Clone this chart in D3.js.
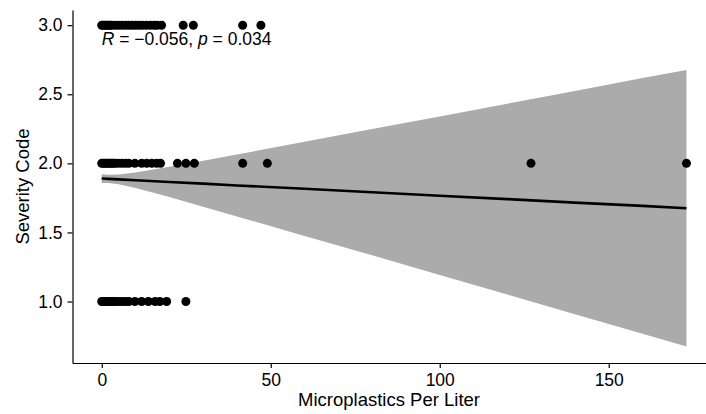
<!DOCTYPE html>
<html>
<head>
<meta charset="utf-8">
<script src="https://cdn.jsdelivr.net/npm/d3@7"></script>
<style>
  body { margin: 0; background: #fff; }
  svg text { font-family: "Liberation Sans", Arial, sans-serif; }
</style>
</head>
<body>
<div id="chart"></div>
<script>
const width = 706;
const height = 414;

// microplastics per liter, one array per severity code
const sev1X = [0, 0.5, 1, 1.5, 2, 2.5, 3, 3.5, 4, 5, 6, 7, 8, 9.8, 11.8, 13.8, 15.8, 17.2, 19.2, 24.9];
const sev2X = [0, 0.5, 1, 1.5, 2, 2.5, 3, 3.5, 4, 5, 6, 7, 8, 9.8, 11.8, 13.3, 14.8, 16.2, 17.4, 22.4, 24.9, 27.4, 41.7, 49.0, 127, 173];
const sev3X = [0, 0.5, 1, 1.5, 2, 2.5, 3, 4, 5, 6, 7, 8, 9, 10, 11, 12, 13.2, 14.4, 15.5, 16.4, 17.7, 24.1, 27.1, 41.7, 47.1];
const severityCodes = [1, 2, 3];

// linear fit and its confidence band
const bandX     = [0, 2, 5, 10, 20, 30, 40, 60, 80, 100, 120, 140, 160, 173];
const fitY      = [1.890, 1.888, 1.884, 1.878, 1.865, 1.853, 1.840, 1.816, 1.791, 1.766, 1.741, 1.716, 1.692, 1.675];
const bandLower = [1.858, 1.858, 1.849, 1.822, 1.756, 1.686, 1.616, 1.475, 1.334, 1.192, 1.050, 0.908, 0.767, 0.674];
const bandUpper = [1.922, 1.918, 1.919, 1.934, 1.975, 2.019, 2.064, 2.156, 2.248, 2.340, 2.432, 2.524, 2.617, 2.676];

const xTicks = [0, 50, 100, 150];
const yTicks = [1.0, 1.5, 2.0, 2.5, 3.0];

const svg = d3.select("#chart").append("svg")
    .attr("width", width)
    .attr("height", height);

// panel runs a bit past the right edge, as in the reference
var x = d3.scaleLinear().domain([-8.65, 181.65]).range([72.5, 715.7]);
var y = d3.scaleLinear().domain([0.555, 3.11]).range([363, 10]);

var points = [];
[sev1X, sev2X, sev3X].forEach(function(xs, i) {
    xs.forEach(function(v) { points.push({x: v, y: severityCodes[i]}); });
});
var band = bandX.map(function(v, i) {
    return {x: v, lo: bandLower[i], hi: bandUpper[i], fit: fitY[i]};
});

svg.append("path")
    .datum(band)
    .attr("fill", "#ababab")
    .attr("d", d3.area()
        .x(function(d) { return x(d.x); })
        .y0(function(d) { return y(d.lo); })
        .y1(function(d) { return y(d.hi); }));

svg.append("path")
    .datum(band)
    .attr("fill", "none")
    .attr("stroke", "#000")
    .attr("stroke-width", 2.6)
    .attr("d", d3.line()
        .x(function(d) { return x(d.x); })
        .y(function(d) { return y(d.fit); }));

svg.append("g")
    .selectAll("circle")
    .data(points)
    .join("circle")
    .attr("cx", function(d) { return x(d.x); })
    .attr("cy", function(d) { return y(d.y); })
    .attr("r", 4.5)
    .attr("fill", "#000");

// axes
var xAxis = svg.append("g")
    .attr("transform", "translate(0,363)")
    .call(d3.axisBottom(x).tickValues(xTicks).tickSize(5).tickSizeOuter(0).tickPadding(6));
var yAxis = svg.append("g")
    .attr("transform", "translate(72.5,0)")
    .call(d3.axisLeft(y).tickValues(yTicks).tickFormat(d3.format(".1f")).tickSize(5).tickSizeOuter(0).tickPadding(5));

[xAxis, yAxis].forEach(function(g) {
    g.select(".domain").attr("stroke", "#000").attr("stroke-width", 1.2);
    g.selectAll(".tick line").attr("stroke", "#000").attr("stroke-width", 1.2);
    g.selectAll(".tick text").attr("fill", "#000").style("font-size", "17.5px");
});

svg.append("text")
    .attr("x", 389)
    .attr("y", 406)
    .attr("text-anchor", "middle")
    .style("font-size", "18.5px")
    .text("Microplastics Per Liter");

svg.append("text")
    .attr("transform", "translate(29,186.5) rotate(-90)")
    .attr("text-anchor", "middle")
    .style("font-size", "18.5px")
    .text("Severity Code");

// correlation label
var label = svg.append("text")
    .attr("x", 101.7)
    .attr("y", 45)
    .style("font-size", "17.5px");
label.append("tspan").attr("font-style", "italic").text("R");
label.append("tspan").text(" = \u22120.056, ");
label.append("tspan").attr("font-style", "italic").text("p");
label.append("tspan").text(" = 0.034");
</script>
</body>
</html>
